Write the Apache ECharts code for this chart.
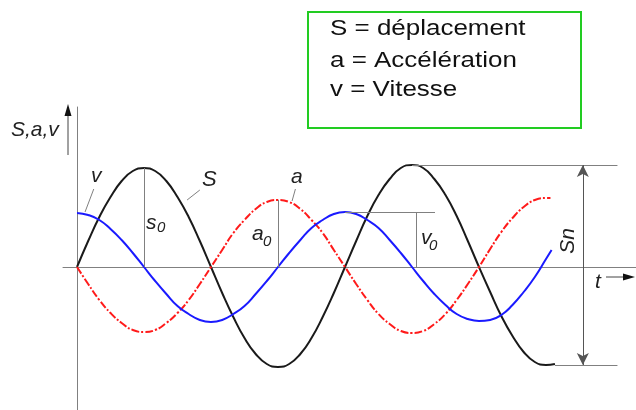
<!DOCTYPE html>
<html>
<head>
<meta charset="utf-8">
<script src="https://cdn.jsdelivr.net/npm/echarts@6/dist/echarts.min.js"></script>
<style>
  html, body { margin: 0; background: #fff; }
  #chart { width: 636px; height: 410px; }
</style>
</head>
<body>
<div id="chart"></div>
<script>
// temps : un pas = 1/24 de période
const pas = [0, 1, 2, 3, 4, 5, 6, 7, 8, 9, 10, 11, 12, 13, 14, 15, 16, 17, 18, 19, 20, 21,
  22, 23, 24, 25, 26, 27, 28, 29, 30, 31, 32, 33, 34, 35, 36, 37, 38, 39, 40, 41, 42];
const tempsS = pas.concat([42.8]);
const tempsA = pas.concat([42.4]);
const tempsV = pas.concat([42.5]);

// valeurs
const deplacement = [0, 26, 50, 70, 86, 96, 99, 96, 86, 70, 50, 26, 0,
  -26, -50, -71, -87, -97, -100, -97, -87, -71, -50, -26, 0,
  26, 51, 72, 88, 99, 102, 99, 88, 72, 51, 26, 0,
  -25, -49, -69, -85, -95, -98, -97];
const acceleration = [0, -17, -33, -46, -56, -63, -65, -63, -56, -46, -33, -17, 0,
  17, 34, 47, 58, 65, 67, 65, 58, 47, 34, 17, 0,
  -17, -33, -47, -57, -64, -66, -64, -57, -47, -33, -17, 0,
  18, 35, 49, 60, 67, 69, 69];
const vitesse = [54, 52, 47, 38, 27, 14, 0, -14, -27, -39, -47, -53, -55,
  -53, -47, -39, -27, -14, 0, 14, 27, 39, 47, 53, 55,
  53, 47, 39, 27, 14, 0, -14, -27, -38, -47, -52, -54,
  -53, -48, -38, -25, -10, 8, 17];

const legende = ['S = déplacement', 'a = Accélération', 'v = Vitesse'];

const pairs = (t, y) => t.map((x, i) => [x, y[i]]);

const gris = '#808080';
const trait = { color: gris, width: 1, type: 'solid' };

// repères : s0, a0, v0, Sn et traits de rappel
const iS0 = 6, iA0 = 18, iV0 = 24, iSmax = 30, iSmin = 43;
const reperes = [
  [{ coord: [tempsS[iS0], 0] }, { coord: [tempsS[iS0], deplacement[iS0]] }],
  [{ coord: [tempsA[iA0], 0] }, { coord: [tempsA[iA0], acceleration[iA0]] }],
  [{ coord: [tempsV[iV0], vitesse[iV0]] }, { coord: [32.06, vitesse[iV0]] }],
  [{ coord: [30.4, vitesse[iV0]] }, { coord: [30.4, 0] }],
  [{ coord: [tempsS[iSmax], deplacement[iSmax]] }, { coord: [48.4, deplacement[iSmax]] }],
  [{ coord: [tempsS[iSmin], deplacement[iSmin] - 1] }, { coord: [48.4, deplacement[iSmin] - 1] }],
  // traits de rappel des étiquettes
  [{ coord: [0.72, 55] }, { coord: [1.5, 78] }],
  [{ coord: [9.86, 67] }, { coord: [11, 77] }],
  [{ coord: [19.26, 66] }, { coord: [19.56, 78] }]
];

let myChart = echarts.init(document.getElementById('chart'));

const police = 'Liberation Sans, Arial, sans-serif';
const italique = (txt, x, y, size, extra) => ({
  type: 'text', x: x, y: y,
  rotation: extra && extra.rotation || 0,
  style: {
    text: txt, fill: '#222', fontSize: size, fontStyle: 'italic', fontFamily: police,
    verticalAlign: 'middle', align: extra && extra.align || 'left'
  }
});

let option = {
  animation: false,
  backgroundColor: '#fff',
  grid: { left: 63, right: 0, top: 107, bottom: 0 },
  xAxis: {
    type: 'value', min: -1.254, max: 50.06,
    axisLine: { onZero: true, lineStyle: { color: gris, width: 1 } },
    axisTick: { show: false }, axisLabel: { show: false }, splitLine: { show: false }
  },
  yAxis: {
    type: 'value', min: -143, max: 160,
    axisLine: { onZero: true, lineStyle: { color: gris, width: 1 } },
    axisTick: { show: false }, axisLabel: { show: false }, splitLine: { show: false }
  },
  series: [{
    name: 'S', type: 'line', smooth: true, showSymbol: false,
    data: pairs(tempsS, deplacement),
    lineStyle: { color: '#1a1a1a', width: 2 },
    markLine: {
      silent: true, symbol: ['none', 'none'], label: { show: false },
      lineStyle: trait, data: reperes
    }
  }, {
    name: 'a', type: 'line', smooth: true, showSymbol: false,
    data: pairs(tempsA, acceleration),
    lineStyle: { color: '#ff1a1a', width: 2, type: [8, 2, 2, 2] },
    markLine: {
      silent: true, symbol: ['arrow', 'arrow'], symbolSize: [9, 12], label: { show: false },
      lineStyle: { color: '#555', width: 1, type: 'solid' },
      data: [[{ coord: [45.3, deplacement[iSmax]] }, { coord: [45.3, deplacement[iSmin] - 1] }]]
    }
  }, {
    name: 'v', type: 'line', smooth: true, showSymbol: false,
    data: pairs(tempsV, vitesse),
    lineStyle: { color: '#1a1aff', width: 2 }
  }],
  graphic: [
    // encadré
    { type: 'rect', shape: { x: 308, y: 12, width: 273, height: 116 },
      style: { fill: '#fff', stroke: '#22cc22', lineWidth: 2 } },
    ...legende.map((txt, i) => ({
      type: 'text', x: 330, y: [29, 61, 90][i], scaleX: 1.18,
      style: { text: txt, fill: '#111', fontSize: 22, fontFamily: police, verticalAlign: 'middle' }
    })),
    // axe vertical : libellé et flèche
    italique('S,a,v', 11, 130, 21),
    { type: 'line', shape: { x1: 68, y1: 155, x2: 68, y2: 114 }, style: { stroke: '#444', lineWidth: 1 } },
    { type: 'polygon', shape: { points: [[68, 104], [64.5, 116], [71.5, 116]] }, style: { fill: '#111' } },
    // axe du temps
    italique('t', 595, 282, 21),
    { type: 'line', shape: { x1: 606, y1: 277, x2: 624, y2: 277 }, style: { stroke: '#444', lineWidth: 1 } },
    { type: 'polygon', shape: { points: [[635, 277], [623, 273.5], [623, 280.5]] }, style: { fill: '#111' } },
    // étiquettes des courbes
    italique('S', 202, 180, 22),
    italique('a', 291, 177, 21),
    italique('v', 91, 176, 21),
    italique('s', 146, 223, 21),
    italique('0', 157, 228, 15),
    italique('a', 252, 234, 21),
    italique('0', 263, 242, 15),
    italique('v', 421, 238, 21),
    italique('0', 429, 246, 15),
    italique('Sn', 568, 241, 21, { rotation: Math.PI / 2, align: 'center' })
  ]
};

myChart.setOption(option);
</script>
</body>
</html>
